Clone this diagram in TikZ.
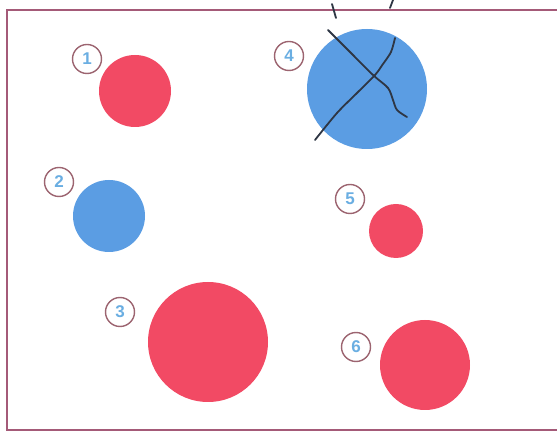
\documentclass[tikz,border=0pt]{standalone}
\usepackage{fontspec}
\newfontfamily\numfont{Liberation Sans}
\usepackage{tikz}
\definecolor{frm}{HTML}{A45A78}
\definecolor{rd}{HTML}{F24A64}
\definecolor{bl}{HTML}{5B9DE3}
\definecolor{numc}{HTML}{6AAEE2}
\definecolor{ringc}{HTML}{9C6470}
\definecolor{pen}{HTML}{2E3644}
\tikzset{
  dot/.style={circle,draw=none,inner sep=0pt},
  rdot/.style={dot,fill=rd},
  bdot/.style={dot,fill=bl},
  num/.style={circle,draw=ringc,line width=0.7pt,fill=white,inner sep=0pt,minimum size=14.5pt,
    font=\numfont\bfseries\fontsize{8.5}{8.5}\selectfont,text=numc},
  penline/.style={draw=pen,line width=0.9pt,line cap=round,line join=round},
}
\begin{document}
\begin{tikzpicture}[x=0.5pt,y=-0.5pt]
\useasboundingbox (0,0) rectangle (557,432);
\draw[frm,line width=0.9pt] (7,10) rectangle (562,430);
% dots
\node[rdot,minimum size=36pt] (d1) at (135,91) {};
\node[bdot,minimum size=36pt] (d2) at (109,216) {};
\node[rdot,minimum size=60pt] (d3) at (208,342) {};
\node[bdot,minimum size=60pt] (d4) at (367,89) {};
\node[rdot,minimum size=27pt] (d5) at (396,231) {};
\node[rdot,minimum size=45pt] (d6) at (425,365) {};
% numbers
\node[num] (n1) at (87,59) {1};
\node[num] (n2) at (59,182) {2};
\node[num] (n3) at (120,312) {3};
\node[num] (n4) at (289,56) {4};
\node[num] (n5) at (350,199) {5};
\node[num] (n6) at (356,347) {6};
% crossed out
\draw[penline] plot[smooth] coordinates {(328,30) (350,52) (373,75) (388,88) (393,100) (397,110) (407,117)};
\draw[penline] plot[smooth] coordinates {(395,38) (391,52) (383,64) (375,75) (357,93) (337,113) (315,140)};
\draw[penline] (332,4) -- (336,18);
\draw[penline] (393,0) -- (390,8);
\end{tikzpicture}
\end{document}
